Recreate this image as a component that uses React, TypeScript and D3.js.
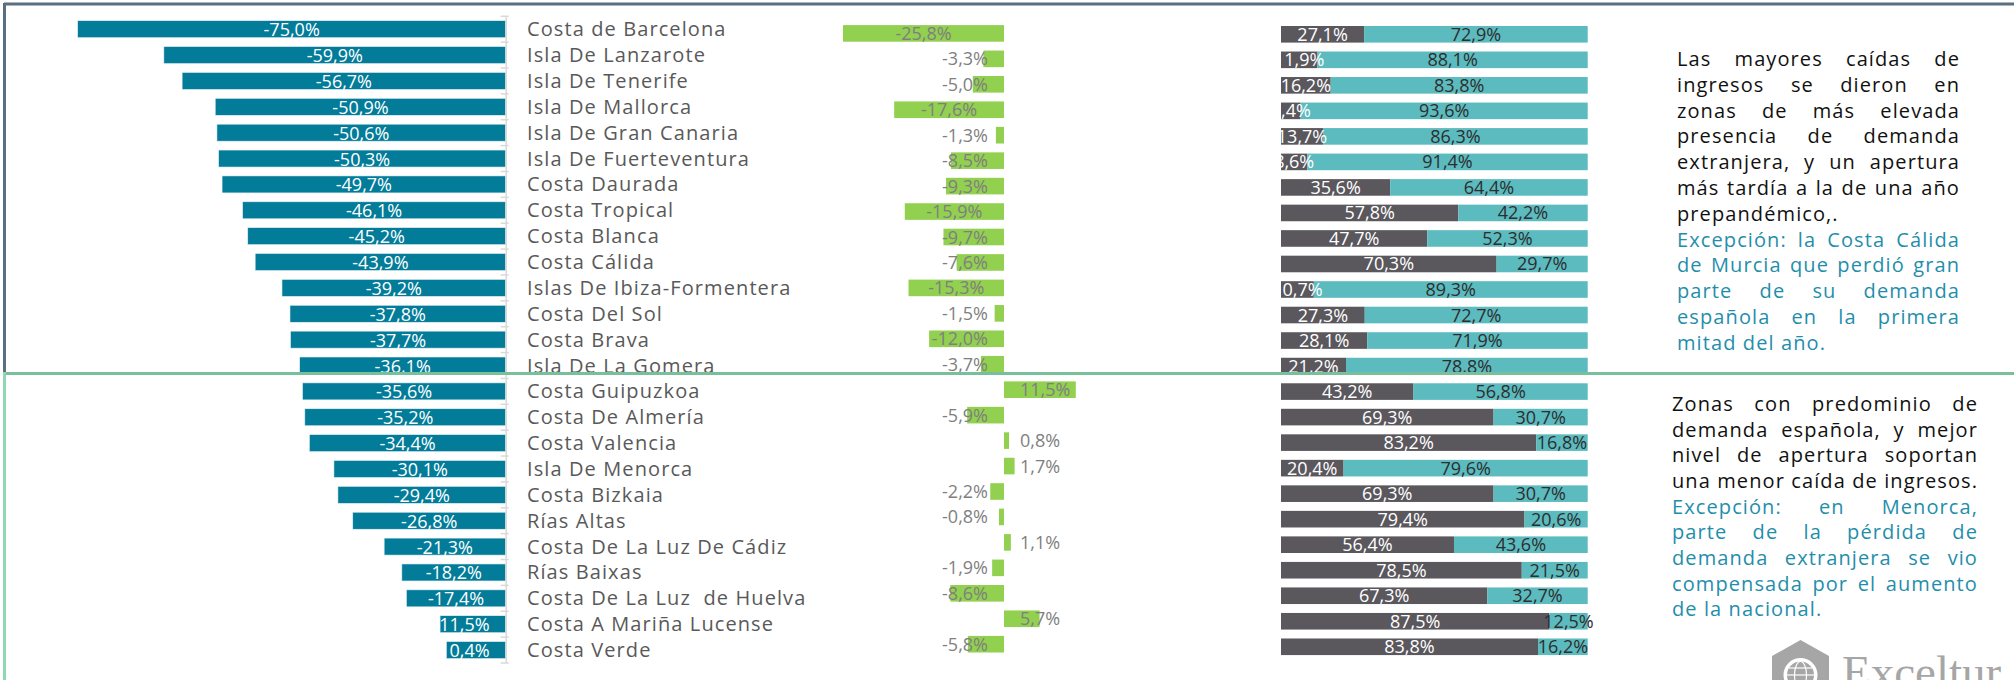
import React from 'react';
import * as d3 from 'd3';

const categories = [
  'Costa de Barcelona', 'Isla De Lanzarote', 'Isla De Tenerife', 'Isla De Mallorca',
  'Isla De Gran Canaria', 'Isla De Fuerteventura', 'Costa Daurada', 'Costa Tropical',
  'Costa Blanca', 'Costa Cálida', 'Islas De Ibiza-Formentera', 'Costa Del Sol',
  'Costa Brava', 'Isla De La Gomera', 'Costa Guipuzkoa', 'Costa De Almería',
  'Costa Valencia', 'Isla De Menorca', 'Costa Bizkaia', 'Rías Altas',
  'Costa De La Luz De Cádiz', 'Rías Baixas', 'Costa De La Luz  de Huelva',
  'Costa A Mariña Lucense', 'Costa Verde',
];

const incomeChange = [
  -75.0, -59.9, -56.7, -50.9, -50.6, -50.3, -49.7, -46.1, -45.2, -43.9, -39.2, -37.8,
  -37.7, -36.1, -35.6, -35.2, -34.4, -30.1, -29.4, -26.8, -21.3, -18.2, -17.4, -11.5, -10.4,
];

const secondChange = [
  -25.8, -3.3, -5.0, -17.6, -1.3, -8.5, -9.3, -15.9, -9.7, -7.6, -15.3, -1.5,
  -12.0, -3.7, 11.5, -5.9, 0.8, 1.7, -2.2, -0.8, 1.1, -1.9, -8.6, 5.7, -5.8,
];

const shareSpanish = [
  27.1, 11.9, 16.2, 6.4, 13.7, 8.6, 35.6, 57.8, 47.7, 70.3, 10.7, 27.3,
  28.1, 21.2, 43.2, 69.3, 83.2, 20.4, 69.3, 79.4, 56.4, 78.5, 67.3, 87.5, 83.8,
];

const shareForeign = [
  72.9, 88.1, 83.8, 93.6, 86.3, 91.4, 64.4, 42.2, 52.3, 29.7, 89.3, 72.7,
  71.9, 78.8, 56.8, 30.7, 16.8, 79.6, 30.7, 20.6, 43.6, 21.5, 32.7, 12.5, 16.2,
];

const note1Black = [
  'Las mayores caídas de',
  'ingresos se dieron en',
  'zonas de más elevada',
  'presencia de demanda',
  'extranjera, y un apertura',
  'más tardía a la de una año',
  'prepandémico,.',
];
const note1Blue = [
  'Excepción: la Costa Cálida',
  'de Murcia que perdió gran',
  'parte de su demanda',
  'española en la primera',
  'mitad del año.',
];
const note2Black = [
  'Zonas con predominio de',
  'demanda española, y mejor',
  'nivel de apertura soportan',
  'una menor caída de ingresos.',
];
const note2Blue = [
  'Excepción: en Menorca,',
  'parte de la pérdida de',
  'demanda extranjera se vio',
  'compensada por el aumento',
  'de la nacional.',
];

const FONT = "'Open Sans', 'Noto Sans', sans-serif";
const TEAL = '#027c99';
const GREEN = '#92d050';
const DARK = '#5a575d';
const AQUA = '#5bbbbf';
const BLUE_TEXT = '#1f8eab';

let ctx: CanvasRenderingContext2D | null = null;
function textWidth(t: string, size: number, ls = 0) {
  if (!ctx) ctx = document.createElement('canvas').getContext('2d');
  if (!ctx) return t.length * size * 0.55;
  ctx.font = `${size}px 'Open Sans'`;
  return ctx.measureText(t).width + ls * t.length;
}

function fmt(v: number) {
  const s = d3.format('.1f')(Math.abs(v)).replace('.', ',');
  return (v < 0 ? '-' : '') + s + '%';
}

function JustLine({ text, x, y, width, justify, fill }: any) {
  const size = 20;
  const ls = 1.1;
  const words = text.split(' ');
  if (!justify || words.length < 2) {
    return (
      <text x={x} y={y} fill={fill} fontSize={size} fontFamily={FONT} letterSpacing={ls}>
        {text}
      </text>
    );
  }
  const ws = words.map((w: string) => textWidth(w, size, ls));
  const sum = ws.reduce((a: number, b: number) => a + b, 0);
  const gap = (width - sum) / (words.length - 1);
  let cx = x;
  return (
    <g>
      {words.map((w: string, i: number) => {
        const el = (
          <text key={i} x={cx} y={y} fill={fill} fontSize={size} fontFamily={FONT} letterSpacing={ls}>
            {w}
          </text>
        );
        cx += ws[i] + gap;
        return el;
      })}
    </g>
  );
}

function Note({ black, blue, x, y0, step, width }: any) {
  const lines: any[] = [];
  black.forEach((t: string, i: number) =>
    lines.push({ t, fill: '#111111', justify: i < black.length - 1 || black === note2Black }));
  blue.forEach((t: string, i: number) =>
    lines.push({ t, fill: BLUE_TEXT, justify: i < blue.length - 1 }));
  return (
    <g>
      {lines.map((l, i) => (
        <JustLine key={i} text={l.t} x={x} y={y0 + i * step} width={width} justify={l.justify} fill={l.fill} />
      ))}
    </g>
  );
}

export default function App() {
  const n = categories.length;
  const idx = d3.range(n).map(String);

  // Panel 1: income change (teal bars)
  const p1Step = 25.87, p1C0 = 29.2;
  const y1 = d3.scaleBand().domain(idx).range([p1C0 - p1Step / 2, p1C0 + (n - 0.5) * p1Step]);
  const x1 = d3.scaleLinear().domain([-80, 0]).range([505.7 - 80 * 5.707, 505.7]);

  // Panel 2: green bars
  const p2Step = 25.45, p2C0 = 33.4;
  const y2 = d3.scaleBand().domain(idx).range([p2C0 - p2Step / 2, p2C0 + (n - 0.5) * p2Step]);
  const x2 = d3.scaleLinear().domain([-30, 15]).range([1004 - 30 * 6.24, 1004 + 15 * 6.24]);

  // Panel 3: stacked shares
  const p3Step = 25.52, p3C0 = 34.3;
  const y3 = d3.scaleBand().domain(idx).range([p3C0 - p3Step / 2, p3C0 + (n - 0.5) * p3Step]);
  const x3 = d3.scaleLinear().domain([0, 100]).range([1281, 1587.7]);

  const vfs = 18;
  const c1 = (i: number) => (y1(String(i)) as number) + y1.bandwidth() / 2;
  const c2 = (i: number) => (y2(String(i)) as number) + y2.bandwidth() / 2;
  const c3 = (i: number) => (y3(String(i)) as number) + y3.bandwidth() / 2;

  const axisX = x1(0);
  const ticksY = d3.range(n + 1).map((i) => y1.range()[0] + i * y1.step());

  return (
    <svg width={2014} height={680} style={{ position: 'absolute', left: 0, top: 0, display: 'block', background: '#fff' }}>
      <rect x={0} y={0} width={2014} height={680} fill="#ffffff" />

      {/* Panel 1 */}
      <g>
        {incomeChange.map((v, i) => {
          const xl = x1(v), xr = x1(0);
          const cy = c1(i);
          return <rect key={i} x={xl} y={cy - 8.5} width={xr - xl} height={17} fill={TEAL} stroke="#e6f1f4" strokeWidth={0.6} />;
        })}
        <line x1={axisX + 0.5} x2={axisX + 0.5} y1={ticksY[0]} y2={ticksY[n]} stroke="#d9d9d9" strokeWidth={1.5} />
        {ticksY.map((t, i) => (
          <line key={i} x1={axisX - 5} x2={axisX + 3} y1={t} y2={t} stroke="#d9d9d9" strokeWidth={1.5} />
        ))}
        {incomeChange.map((v, i) => {
          const label = fmt(v);
          const w = textWidth(label, vfs);
          const barC = (x1(v) + x1(0)) / 2;
          const cx = Math.min(barC, x1(0) - 16 - w / 2);
          return (
            <text key={i} x={cx} y={c1(i) + 7} textAnchor="middle" fill="#ffffff" fontSize={vfs} fontFamily={FONT}>
              {label}
            </text>
          );
        })}
      </g>

      {/* Category labels */}
      <g>
        {categories.map((c, i) => (
          <text key={i} x={527} y={c1(i) + 7} fill="#595959" fontSize={20} fontFamily={FONT} letterSpacing={1.1} style={{ whiteSpace: 'pre' }}>
            {c}
          </text>
        ))}
      </g>

      {/* Panel 2 */}
      <g>
        {secondChange.map((v, i) => {
          const xa = x2(Math.min(0, v)), xb = x2(Math.max(0, v));
          return <rect key={i} x={xa} y={c2(i) - 8.3} width={xb - xa} height={16.6} fill={GREEN} />;
        })}
        {secondChange.map((v, i) => {
          const label = fmt(v);
          const w = textWidth(label, vfs);
          const barC = (x2(v) + x2(0)) / 2;
          const cx = v < 0 ? Math.min(barC, x2(0) - 16 - w / 2) : Math.max(barC, x2(0) + 16 + w / 2);
          return (
            <text key={i} x={cx} y={c2(i) + 6.5} textAnchor="middle" fill="#7f7f7f" fontSize={vfs} fontFamily={FONT}>
              {label}
            </text>
          );
        })}
      </g>

      {/* Panel 3 */}
      <g>
        {shareSpanish.map((v, i) => (
          <g key={i}>
            <rect x={x3(0)} y={c3(i) - 8.3} width={x3(v) - x3(0)} height={16.6} fill={DARK} />
            <rect x={x3(v)} y={c3(i) - 8.3} width={x3(v + shareForeign[i]) - x3(v)} height={16.6} fill={AQUA} />
          </g>
        ))}
        {shareSpanish.map((v, i) => (
          <g key={i}>
            <text x={(x3(0) + x3(v)) / 2} y={c3(i) + 6.5} textAnchor="middle" fill="#ffffff" fontSize={vfs} fontFamily={FONT}>
              {fmt(v)}
            </text>
            <text x={(x3(v) + x3(v + shareForeign[i])) / 2} y={c3(i) + 6.5} textAnchor="middle" fill="#2e2e2e" fontSize={vfs} fontFamily={FONT}>
              {fmt(shareForeign[i])}
            </text>
          </g>
        ))}
      </g>

      {/* Notes */}
      <Note black={note1Black} blue={note1Blue} x={1677} y0={66} step={25.8} width={283} />
      <Note black={note2Black} blue={note2Blue} x={1672} y0={411} step={25.65} width={306} />

      {/* Logo */}
      <g>
        <polygon points="1800.5,640 1829,656 1829,700 1772,700 1772,656" fill="#a6a6a6" />
        <circle cx={1800.5} cy={675} r={17} fill="#ffffff" />
        <circle cx={1800.5} cy={675} r={13.5} fill="#a6a6a6" />
        <g stroke="#ffffff" strokeWidth={1.2} fill="none">
          <ellipse cx={1800.5} cy={675} rx={6} ry={13.5} />
          <line x1={1787} x2={1814} y1={675} y2={675} />
          <line x1={1789} x2={1812} y1={668} y2={668} />
          <line x1={1789} x2={1812} y1={682} y2={682} />
        </g>
        <text x={1842} y={688} fill="#a6a6a6" fontSize={47} fontFamily="'Liberation Serif', 'DejaVu Serif', serif">
          Exceltur
        </text>
      </g>

      {/* Frames */}
      <line x1={4} x2={2014} y1={4} y2={4} stroke="#5a6f80" strokeWidth={3} />
      <line x1={4.5} x2={4.5} y1={3} y2={373} stroke="#5a6f80" strokeWidth={3} />
      <line x1={4} x2={2014} y1={373.5} y2={373.5} stroke="#78bf9c" strokeWidth={3} />
      <line x1={4.5} x2={4.5} y1={372} y2={680} stroke="#8fd6b2" strokeWidth={3} />
    </svg>
  );
}
